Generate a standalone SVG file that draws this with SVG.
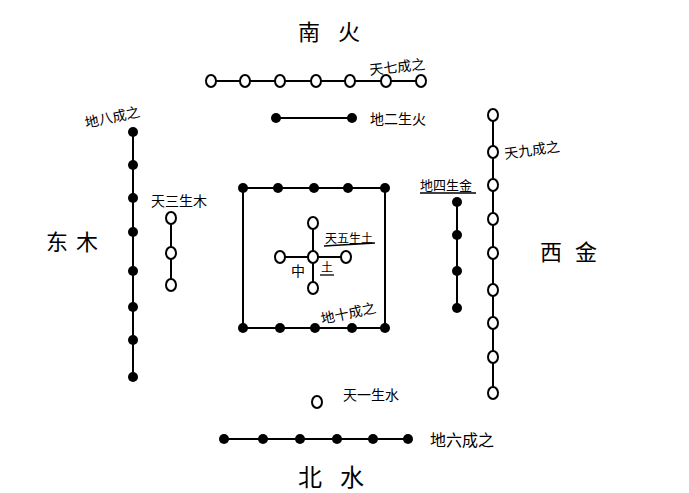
<svg xmlns="http://www.w3.org/2000/svg" width="689" height="493" viewBox="0 0 689 493">
<style>
.ln{stroke:#000;stroke-width:2;fill:none}
.o{fill:#fff;stroke:#000;stroke-width:2}
.d{fill:#000}
.t{font-family:"Noto Sans CJK SC","Noto Sans",sans-serif;fill:#000}
.s{font-size:14px}
.b{font-size:22px}
.u{stroke:#000;stroke-width:1.3}
</style>
<defs>
<ellipse id="oc" rx="5" ry="6" class="o"/>
<circle id="dc" r="5" class="d"/>
</defs>
<rect width="689" height="493" fill="#fff"/>
<g id="connectors">
<line class="ln" x1="211" y1="81" x2="421" y2="81"/>
<line class="ln" x1="275" y1="118" x2="352" y2="118"/>
<line class="ln" x1="133" y1="132" x2="133" y2="377"/>
<line class="ln" x1="171" y1="218" x2="171" y2="285"/>
<rect class="ln" x="243" y="188" width="142" height="140"/>
<line class="ln" x1="313" y1="223" x2="313" y2="288"/>
<line class="ln" x1="280" y1="257" x2="346" y2="257"/>
<line class="ln" x1="457" y1="202" x2="457" y2="308"/>
<line class="ln" x1="493" y1="115" x2="493" y2="393"/>
<line class="ln" x1="224" y1="439" x2="408" y2="439"/>
</g>
<g id="south">
<text class="t b" x="298" y="40">南</text>
<text class="t b" x="338" y="40">火</text>
</g>
<g id="tian7">
<use href="#oc" x="211" y="81"/><use href="#oc" x="245" y="81"/><use href="#oc" x="280" y="81"/><use href="#oc" x="316" y="81"/><use href="#oc" x="350" y="81"/><use href="#oc" x="386" y="81"/><use href="#oc" x="421" y="81"/>
<text class="t s" x="370" y="75" transform="rotate(-6 370 75)">天七成之</text>
</g>
<g id="di2">
<use href="#dc" x="276" y="118"/><use href="#dc" x="352" y="118"/>
<text class="t s" x="370" y="124">地二生火</text>
</g>
<g id="di8">
<use href="#dc" x="133" y="132"/><use href="#dc" x="133" y="165"/><use href="#dc" x="133" y="198"/><use href="#dc" x="133" y="232"/><use href="#dc" x="133" y="271"/><use href="#dc" x="133" y="307"/><use href="#dc" x="133" y="340"/><use href="#dc" x="133" y="377"/>
<text class="t s" x="86" y="128" transform="rotate(-12 86 128)">地八成之</text>
</g>
<g id="tian3">
<use href="#oc" x="171" y="218"/><use href="#oc" x="171" y="253"/><use href="#oc" x="171" y="285"/>
<text class="t s" x="151" y="206">天三生木</text>
</g>
<g id="east">
<text class="t b" x="46" y="250">东</text>
<text class="t b" x="76" y="250">木</text>
</g>
<g id="di10">
<use href="#dc" x="243" y="188"/><use href="#dc" x="278" y="188"/><use href="#dc" x="314" y="188"/><use href="#dc" x="348" y="188"/><use href="#dc" x="385" y="188"/>
<use href="#dc" x="243" y="328"/><use href="#dc" x="280" y="328"/><use href="#dc" x="315" y="328"/><use href="#dc" x="352" y="328"/><use href="#dc" x="385" y="328"/>
<text class="t s" x="322" y="324" transform="rotate(-12 322 324)">地十成之</text>
</g>
<g id="tian5">
<use href="#oc" x="313" y="223"/><use href="#oc" x="313" y="288"/><use href="#oc" x="280" y="257"/><use href="#oc" x="346" y="257"/><use href="#oc" x="313" y="257"/>
<text class="t" font-size="12" x="325" y="243">天五生土</text>
<line class="u" x1="324" y1="246" x2="375" y2="243"/>
<text class="t s" x="291" y="276">中</text>
<text class="t" font-size="12" x="321" y="272">土</text>
<line class="u" x1="320" y1="275" x2="334" y2="275"/>
</g>
<g id="di4">
<use href="#dc" x="457" y="202"/><use href="#dc" x="457" y="235"/><use href="#dc" x="457" y="271"/><use href="#dc" x="457" y="308"/>
<text class="t" font-size="13" x="420" y="190">地四生金</text>
<line class="u" x1="420" y1="193" x2="476" y2="193"/>
</g>
<g id="tian9">
<use href="#oc" x="493" y="115"/><use href="#oc" x="493" y="152"/><use href="#oc" x="493" y="185"/><use href="#oc" x="493" y="219"/><use href="#oc" x="493" y="253"/><use href="#oc" x="493" y="290"/><use href="#oc" x="493" y="323"/><use href="#oc" x="493" y="357"/><use href="#oc" x="493" y="393"/>
<text class="t s" x="505" y="159" transform="rotate(-8 505 159)">天九成之</text>
</g>
<g id="west">
<text class="t b" x="540" y="260">西</text>
<text class="t b" x="575" y="260">金</text>
</g>
<g id="tian1">
<use href="#oc" x="317" y="402"/>
<text class="t s" x="343" y="400">天一生水</text>
</g>
<g id="di6">
<use href="#dc" x="224" y="439"/><use href="#dc" x="263" y="439"/><use href="#dc" x="300" y="439"/><use href="#dc" x="337" y="439"/><use href="#dc" x="373" y="439"/><use href="#dc" x="408" y="439"/>
<text class="t" font-size="16" x="430" y="446">地六成之</text>
</g>
<g id="north">
<text class="t" font-size="24" x="298" y="486">北</text>
<text class="t" font-size="24" x="340" y="486">水</text>
</g>
</svg>
